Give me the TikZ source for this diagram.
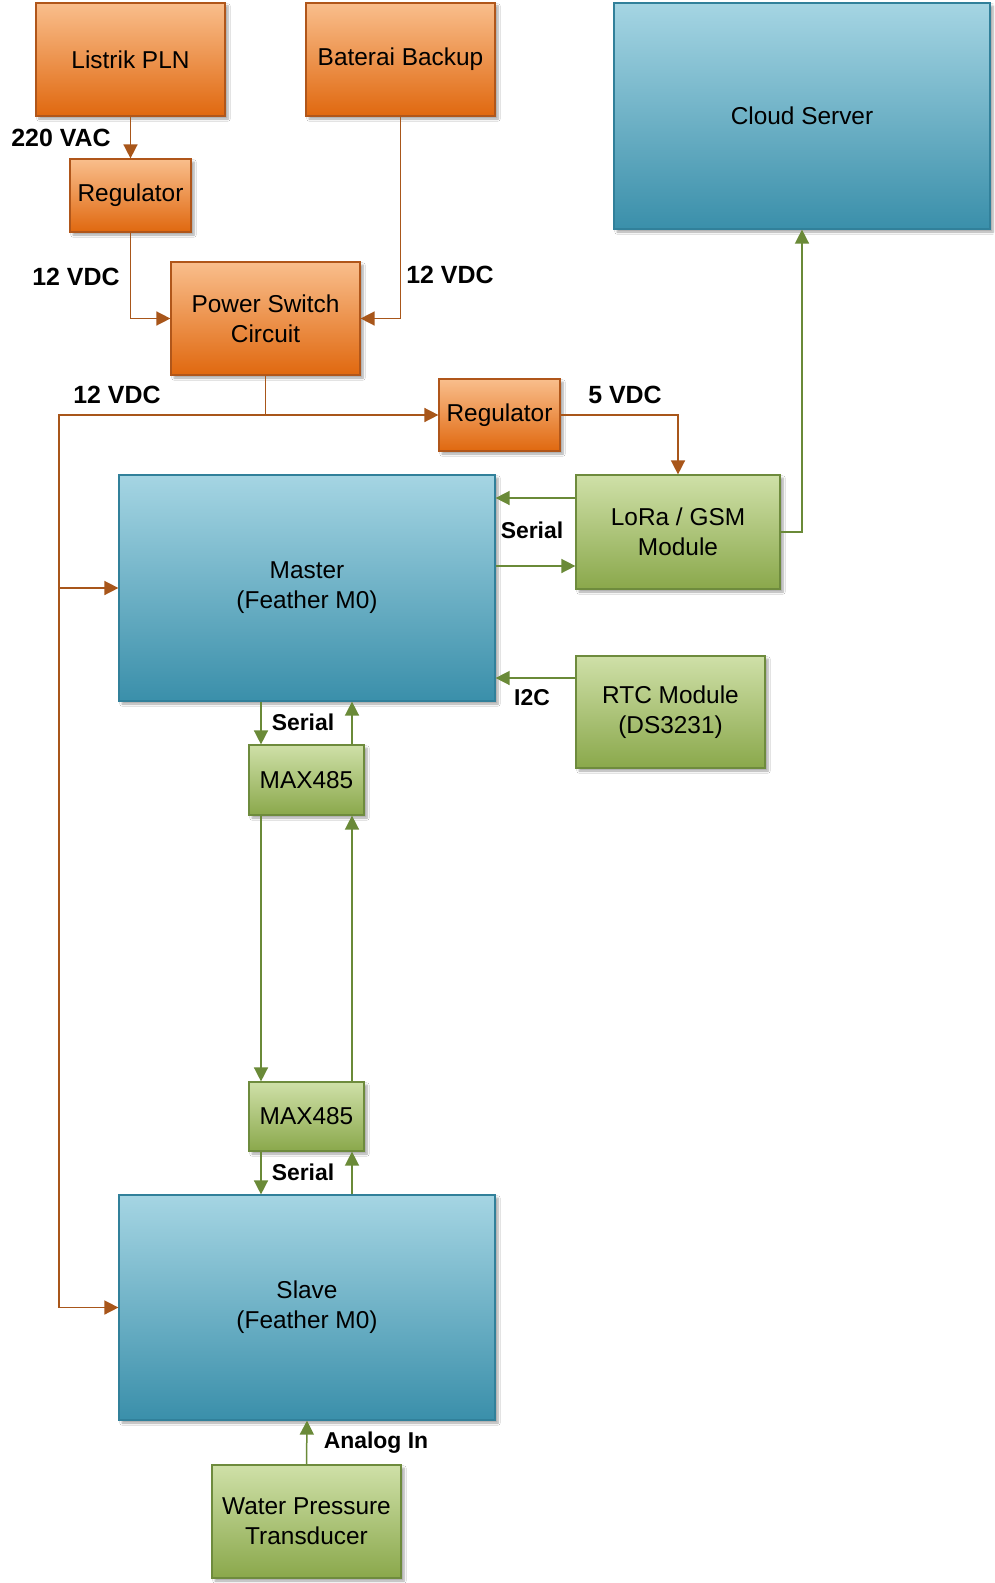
\documentclass[tikz,border=0pt]{standalone}
\usepackage{fontspec}
\setmainfont{Liberation Sans}
\usetikzlibrary{arrows.meta,shadows.blur}
\definecolor{otop}{HTML}{F9BE8C}
\definecolor{obot}{HTML}{E0680F}
\definecolor{obrd}{HTML}{B0561A}
\definecolor{btop}{HTML}{A5D5E3}
\definecolor{bbot}{HTML}{3A8FAA}
\definecolor{bbrd}{HTML}{31809A}
\definecolor{gtop}{HTML}{CFE0A8}
\definecolor{gbot}{HTML}{8AA84B}
\definecolor{gbrd}{HTML}{6E8B3D}
\definecolor{oline}{HTML}{A8561A}
\definecolor{gline}{HTML}{6A8A38}
\tikzset{
  boxbase/.style={rectangle, inner sep=0pt, align=center, line width=1.2bp,
    font=\fontsize{24.5}{30}\selectfont,
    blur shadow={shadow xshift=3bp, shadow yshift=-3bp, shadow opacity=35, shadow blur steps=6}},
  obox/.style={boxbase, draw=obrd, top color=otop, bottom color=obot},
  bbox/.style={boxbase, draw=bbrd, top color=btop, bottom color=bbot},
  gbox/.style={boxbase, draw=gbrd, top color=gtop, bottom color=gbot},
  parrow/.style={draw=oline, line width=1.5bp, -{Triangle[length=14bp,width=14bp]}},
  pline/.style={draw=oline, line width=1.5bp},
  garrow/.style={draw=gline, line width=1.5bp, -{Triangle[length=14bp,width=14bp]}},
  lbl/.style={font=\bfseries\fontsize{23}{27}\selectfont, inner sep=0pt},
  vlbl/.style={font=\bfseries\fontsize{25}{29}\selectfont, inner sep=0pt}
}
\begin{document}
\begin{tikzpicture}[x=1bp,y=-1bp]
\useasboundingbox[fill=white] (0,0) rectangle (994,1583);
% boxes
\node[obox, minimum width=189bp, minimum height=113bp] (listrik) at (130.5,59.5) {Listrik PLN};
\node[obox, minimum width=189bp, minimum height=113bp] (baterai) at (400.5,59.5) {Baterai Backup};
\node[obox, minimum width=121bp, minimum height=73bp] (reg1) at (130.5,195.5) {Regulator};
\node[obox, minimum width=189bp, minimum height=113bp] (psw) at (265.5,318.5) {Power Switch\\Circuit};
\node[obox, minimum width=121bp, minimum height=72bp] (reg2) at (499.5,415) {Regulator};
\node[bbox, minimum width=376bp, minimum height=226bp] (cloud) at (802,116) {Cloud Server};
\node[bbox, minimum width=376bp, minimum height=226bp] (master) at (307,588) {Master\\(Feather M0)};
\node[gbox, minimum width=204bp, minimum height=114bp] (lora) at (678,532) {LoRa / GSM\\Module};
\node[gbox, minimum width=189bp, minimum height=112bp] (rtc) at (670.5,712) {RTC Module\\(DS3231)};
\node[gbox, minimum width=115bp, minimum height=70bp] (max1) at (306.5,780) {MAX485};
\node[gbox, minimum width=115bp, minimum height=69bp] (max2) at (306.5,1116.5) {MAX485};
\node[bbox, minimum width=376bp, minimum height=225bp] (slave) at (307,1307.5) {Slave\\(Feather M0)};
\node[gbox, minimum width=189bp, minimum height=113bp] (water) at (306.5,1521.5) {Water Pressure\\Transducer};
% power connectors
\draw[parrow] (listrik.south) -- (reg1.north);
\draw[parrow] (reg1.south) |- (psw.west);
\draw[parrow] (baterai.south) |- (psw.east);
\coordinate (j1) at (psw.south |- reg2.west);
\coordinate (ltop) at (59,415);
\draw[parrow] (psw.south) |- (reg2.west);
\draw[pline] (j1) -- (ltop) -- (ltop |- slave.west);
\draw[parrow] (ltop |- master.west) -- (master.west);
\draw[parrow] (ltop |- slave.west) -- (slave.west);
\draw[parrow] (reg2.east) -| (lora.north);
% data connectors
\draw[garrow] (lora.west |- 0,498) -- (master.east |- 0,498);
\draw[garrow] (master.east |- 0,566) -- (lora.west |- 0,566);
\draw[garrow] (rtc.west |- 0,678) -- (master.east |- 0,678);
\draw[garrow] (lora.east) -| (cloud.south);
\draw[garrow] (master.south -| 261,0) -- (max1.north -| 261,0);
\draw[garrow] (max1.north -| 352,0) -- (master.south -| 352,0);
\draw[garrow] (max1.south -| 261,0) -- (max2.north -| 261,0);
\draw[garrow] (max2.north -| 352,0) -- (max1.south -| 352,0);
\draw[garrow] (max2.south -| 261,0) -- (slave.north -| 261,0);
\draw[garrow] (slave.north -| 352,0) -- (max2.south -| 352,0);
\draw[garrow] (water.north) -- (slave.south);
% labels
\node[vlbl] (l1) at (61,138) {220 VAC};
\node[vlbl] (l2) at (76,277) {12 VDC};
\node[vlbl] (l3) at (450,275) {12 VDC};
\node[vlbl] (l4) at (117,395) {12 VDC};
\node[vlbl] (l5) at (625,395) {5 VDC};
\node[lbl] (l6) at (532,530) {Serial};
\node[lbl] (l7) at (532,698) {I2C};
\node[lbl] (l8) at (303,722) {Serial};
\node[lbl] (l9) at (303,1172) {Serial};
\node[lbl] (l10) at (376,1443) {Analog In};
\end{tikzpicture}
\end{document}
